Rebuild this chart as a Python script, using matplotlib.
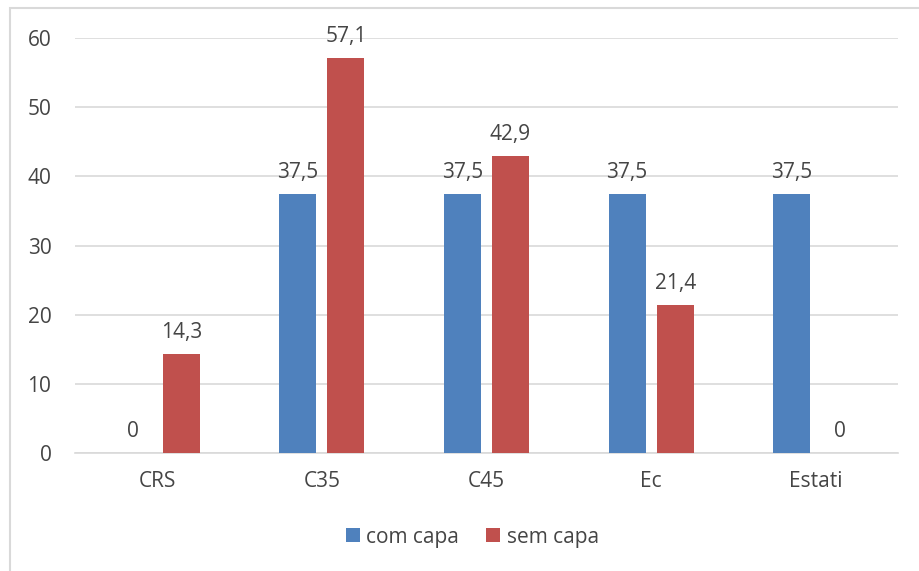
import numpy as np
import matplotlib.pyplot as plt
from matplotlib.patches import Rectangle

categories = ['CRS', 'C35', 'C45', 'Ec', 'Estati']
com_capa = [0, 37.5, 37.5, 37.5, 37.5]
sem_capa = [14.3, 57.1, 42.9, 21.4, 0]
series_names = ['com capa', 'sem capa']

BLUE = '#4F81BD'
RED = '#C0504D'
TEXT = '#454545'
GRID = '#D9D9D9'

plt.rcParams['font.family'] = ['Open Sans', 'DejaVu Sans']

fig = plt.figure(figsize=(9.19, 5.71), dpi=100)
ax = fig.add_axes([75 / 919, 1 - 453 / 571, (898 - 75) / 919, (453 - 38) / 571])

x = np.arange(len(categories))
width = 0.225
offset = 0.146

b1 = ax.bar(x - offset, com_capa, width, color=BLUE, label=series_names[0], zorder=3)
b2 = ax.bar(x + offset, sem_capa, width, color=RED, label=series_names[1], zorder=3)


def fmt(v):
    # comma as decimal separator, integers without decimals
    if float(v).is_integer():
        return f'{int(v)}'
    return f'{v:.1f}'.replace('.', ',')


for bars, vals in ((b1, com_capa), (b2, sem_capa)):
    for rect, v in zip(bars, vals):
        ax.annotate(fmt(v), (rect.get_x() + rect.get_width() / 2, v),
                    xytext=(0, 8), textcoords='offset points',
                    ha='center', va='bottom', fontsize=15, color=TEXT)

ax.set_xlim(-0.5, len(categories) - 0.5)
ax.set_ylim(0, 60)
ax.set_yticks(range(0, 61, 10))
ax.set_xticks(x)
ax.set_xticklabels(categories)
ax.yaxis.grid(True, color=GRID, linewidth=1.2, zorder=0)
ax.tick_params(axis='both', length=0, labelsize=15, colors=TEXT)
ax.tick_params(axis='y', pad=17)
ax.tick_params(axis='x', pad=13)
for side in ('top', 'right', 'left'):
    ax.spines[side].set_visible(False)
ax.spines['bottom'].set_color(GRID)
ax.spines['bottom'].set_linewidth(1.2)

fig.legend(loc='center', bbox_to_anchor=(0.514, 1 - 537 / 571), ncol=2,
           frameon=False, fontsize=15, labelcolor=TEXT, handlelength=0.68,
           handleheight=0.68, handletextpad=0.3, columnspacing=1.3)

# outer chart border (left and top visible)
fig.patches.append(Rectangle((10 / 919, -0.05), 1.2, 1 - 8 / 571 + 0.05,
                             transform=fig.transFigure, fill=False,
                             edgecolor=GRID, linewidth=1.5))

fig.savefig('out.png', dpi=100)
